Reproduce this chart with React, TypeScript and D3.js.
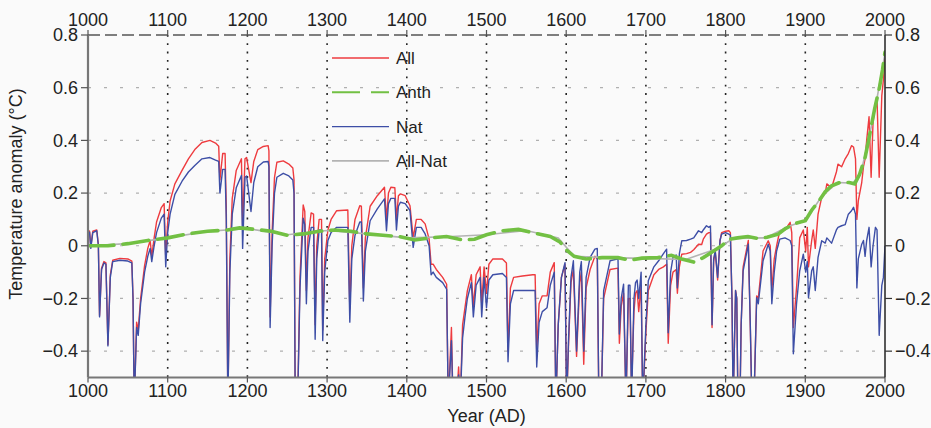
import React from "react";
import * as d3 from "d3";

// ---- Data ----
const years = [
  1000, 1002, 1003.5, 1006, 1011, 1013, 1014.5, 1017, 1020, 1022.5,
  1025, 1028, 1031, 1040, 1050, 1055, 1056.5, 1058, 1061, 1063,
  1066, 1071, 1075, 1078, 1080, 1083, 1086, 1092, 1095.5, 1097.5,
  1100, 1103, 1109, 1118, 1126, 1134, 1143, 1153, 1160, 1164,
  1165.5, 1169, 1172, 1173.5, 1175.5, 1178, 1181, 1186, 1192.5, 1194,
  1197, 1199,
  1204.5, 1208, 1213, 1220, 1226, 1227, 1228.5, 1231, 1234, 1237,
  1245, 1252, 1257, 1258.5, 1260, 1263, 1266, 1270, 1272, 1274,
  1276, 1280, 1283, 1285, 1287, 1290, 1293, 1294.5, 1297,
  1301, 1305, 1312, 1326, 1328.5, 1331, 1335, 1341, 1343, 1345.5,
  1348, 1354, 1363, 1372, 1374.5, 1377, 1380, 1385, 1387, 1389.5,
  1392, 1398,
  1404, 1408, 1412, 1418, 1423, 1428, 1430.5, 1433, 1437, 1445,
  1450, 1452, 1456, 1458, 1462, 1465, 1467, 1470, 1473, 1476,
  1481, 1483.5, 1487, 1492, 1494, 1497,
  1500, 1503, 1508, 1520, 1525, 1527, 1530, 1534, 1545, 1558,
  1561, 1563, 1566, 1570, 1576, 1580, 1585, 1587, 1590, 1594,
  1598.5,
  1600.5, 1603, 1606, 1609, 1613, 1617, 1619, 1622, 1625, 1630,
  1636, 1639, 1641, 1644, 1647, 1655, 1665, 1666.7, 1669, 1672,
  1675, 1678, 1680, 1682, 1685, 1687, 1689, 1691, 1694, 1696,
  1700, 1703, 1710, 1716, 1722, 1726, 1728, 1731, 1734, 1738,
  1739.5, 1742, 1745, 1751, 1756, 1760, 1766, 1770, 1772, 1776,
  1779, 1781, 1783, 1785, 1787, 1790, 1793, 1795,
  1800, 1804, 1806, 1808, 1809.5, 1812.5, 1814, 1815.5, 1818, 1819.5,
  1822, 1828.5, 1831, 1833, 1835.5, 1839, 1841, 1847, 1853.5, 1856,
  1858, 1861, 1864, 1868, 1874.5, 1881, 1883, 1885, 1889, 1893,
  1897.5,
  1900.5, 1902.5, 1904, 1908, 1910, 1912.5, 1916, 1920.6, 1925, 1927,
  1933, 1939, 1941, 1945.6, 1950, 1954, 1958, 1960.5, 1963, 1964.7,
  1966.5, 1970.8, 1973, 1975, 1977, 1980, 1982.6, 1985, 1988, 1990,
  1992.7, 1996, 1998, 2000,
];

const natValues = [
  0.055, 0.05, -0.01, 0.05, 0.057, 0.0, -0.27, -0.09, -0.065, -0.07,
  -0.38, -0.12, -0.06, -0.055, -0.058, -0.065, -0.2, -0.6, -0.31, -0.34,
  -0.22, -0.1, -0.04, -0.01, -0.06, 0.0, 0.05, 0.105, 0.12, -0.08,
  0.05, 0.12, 0.195, 0.245, 0.28, 0.305, 0.33, 0.335, 0.325, 0.32,
  0.2, 0.29, 0.29, 0.1, -0.6, -0.1, 0.12, 0.22, 0.267, -0.01,
  0.26, 0.265,
  0.13, 0.24, 0.3, 0.318, 0.32, 0.3, -0.31, 0.0, 0.2, 0.26,
  0.275, 0.265, 0.25, 0.2, -0.6, -0.6, -0.16, 0.105, 0.08, -0.22,
  -0.02, 0.07, 0.07, -0.355, -0.05, 0.06, 0.06, -0.36, -0.1,
  0.02, 0.05, 0.07, 0.07, -0.29, -0.05, 0.04, 0.09, 0.09, -0.21,
  -0.02, 0.095, 0.14, 0.178, 0.057, 0.16, 0.18, 0.18, 0.06, 0.15,
  0.165, 0.16,
  0.133, -0.006, 0.07, 0.07, 0.045, 0.0, -0.11, -0.1, -0.12, -0.14,
  -0.165, -0.6, -0.36, -0.6, -0.6, -0.49, -0.6, -0.35, -0.27, -0.2,
  -0.14, -0.27, -0.15, -0.12, -0.27, -0.12,
  -0.235, -0.13, -0.11, -0.105, -0.12, -0.44, -0.22, -0.17, -0.17, -0.17,
  -0.17, -0.46, -0.29, -0.25, -0.235, -0.15, -0.1, -0.6, -0.3, -0.12,
  -0.064,
  -0.6, -0.35, -0.12, -0.057, -0.4, -0.1, -0.06, -0.4, -0.12, -0.044,
  -0.013, -0.01, -0.6, -0.6, -0.17, -0.057, -0.05, -0.335, -0.2, -0.146,
  -0.6, -0.15, -0.15, -0.6, -0.2, -0.14, -0.13, -0.2, -0.1, -0.6,
  -0.3, -0.133, -0.08, -0.057, -0.03, -0.013, -0.33, -0.1, -0.044, -0.035,
  -0.16, -0.03, 0.019, 0.02, 0.025, 0.03, 0.057, 0.05, 0.06, 0.076,
  0.07, 0.075, -0.3, -0.05, -0.02, -0.12, 0.02, 0.044,
  0.05, 0.044, 0.04, -0.2, -0.6, -0.17, -0.2, -0.6, -0.6, -0.3,
  -0.095, 0.006, -0.3, -0.6, -0.6, -0.197, -0.22, -0.057, 0.006, -0.02,
  -0.22, -0.1, -0.02, 0.025, 0.03, 0.02, 0.0, -0.41, -0.22, -0.095,
  -0.032,
  -0.1, -0.06, -0.197, -0.095, -0.08, -0.17, -0.044, 0.019, 0.01, 0.03,
  0.01, 0.06, 0.07, 0.076, 0.08, 0.12, 0.133, 0.146, 0.12, -0.16,
  -0.05, 0.006, 0.02, -0.04, 0.02, 0.07, -0.08, 0.0, 0.07, 0.06,
  -0.34, -0.15, -0.12, 0.0,
];

const allValues = [
  0.06, 0.055, -0.005, 0.055, 0.06, 0.005, -0.265, -0.085, -0.06, -0.065,
  -0.375, -0.11, -0.055, -0.048, -0.05, -0.058, -0.2, -0.6, -0.29, -0.32,
  -0.2, -0.075, -0.01, 0.02, -0.04, 0.03, 0.09, 0.145, 0.16, -0.04,
  0.09, 0.17, 0.235, 0.286, 0.33, 0.365, 0.392, 0.4, 0.39, 0.378,
  0.25, 0.35, 0.35, 0.15, -0.6, -0.05, 0.18, 0.286, 0.33, 0.08,
  0.33, 0.335,
  0.24, 0.32, 0.365, 0.377, 0.38, 0.36, -0.27, 0.05, 0.26, 0.317,
  0.322, 0.31, 0.295, 0.25, -0.6, -0.6, -0.12, 0.155, 0.13, -0.17,
  0.03, 0.125, 0.12, -0.3, 0.0, 0.1, 0.1, -0.32, -0.05,
  0.06, 0.1, 0.133, 0.136, -0.24, 0.0, 0.1, 0.152, 0.15, -0.16,
  0.03, 0.15, 0.19, 0.222, 0.1, 0.2, 0.222, 0.22, 0.1, 0.19,
  0.197, 0.19,
  0.152, 0.03, 0.1, 0.1, 0.083, 0.025, -0.07, -0.07, -0.09, -0.12,
  -0.146, -0.6, -0.31, -0.6, -0.6, -0.46, -0.6, -0.3, -0.235, -0.17,
  -0.11, -0.23, -0.11, -0.08, -0.22, -0.08,
  -0.18, -0.07, -0.05, -0.05, -0.065, -0.4, -0.16, -0.12, -0.115, -0.11,
  -0.11, -0.4, -0.22, -0.19, -0.19, -0.1, -0.064, -0.6, -0.3, -0.12,
  -0.07,
  -0.6, -0.37, -0.14, -0.09, -0.42, -0.14, -0.1, -0.45, -0.16, -0.09,
  -0.04, -0.05, -0.6, -0.6, -0.2, -0.09, -0.085, -0.37, -0.23, -0.18,
  -0.6, -0.2, -0.2, -0.55, -0.25, -0.18, -0.17, -0.25, -0.15, -0.6,
  -0.33, -0.17, -0.11, -0.09, -0.08, -0.07, -0.37, -0.15, -0.1, -0.09,
  -0.18, -0.08, -0.032, -0.03, -0.025, -0.015, 0.006, 0.005, 0.025, 0.044,
  0.05, 0.05, -0.31, -0.06, -0.02, -0.13, 0.02, 0.05,
  0.055, 0.057, 0.05, -0.2, -0.6, -0.17, -0.2, -0.6, -0.6, -0.3,
  -0.08, 0.02, -0.31, -0.6, -0.6, -0.19, -0.2, -0.02, 0.019, 0.0,
  -0.17, -0.05, 0.0, 0.057, 0.06, 0.089, 0.05, -0.31, -0.16, 0.03,
  0.06,
  -0.02, 0.07, -0.08, 0.02, 0.06, -0.01, 0.12, 0.184, 0.2, 0.235,
  0.22, 0.28, 0.31, 0.3, 0.33, 0.35, 0.38, 0.375, 0.33, 0.1,
  0.17, 0.24, 0.3, 0.33, 0.4, 0.49, 0.26, 0.47, 0.54, 0.56,
  0.26, 0.57, 0.63, 0.72,
];

const anthYears = [
  1000, 1025, 1050, 1075, 1100, 1125, 1150, 1175, 1190, 1210,
  1230, 1250, 1270, 1290, 1310, 1330, 1350, 1370, 1390, 1410,
  1430, 1450, 1470, 1485, 1500, 1520, 1540, 1560, 1580, 1592,
  1600, 1610, 1625, 1645, 1665, 1680, 1695, 1715, 1732, 1745,
  1760, 1772, 1785, 1795, 1805, 1815, 1828, 1840, 1852, 1866,
  1875, 1888, 1900, 1908, 1916, 1925, 1933, 1945, 1955, 1962,
  1968, 1975, 1981, 1987, 1993, 1997, 2000,
];
const anthValues = [
  0.0, 0.0, 0.008, 0.02, 0.03, 0.045, 0.055, 0.06, 0.068, 0.062,
  0.055, 0.04, 0.045, 0.055, 0.06, 0.055, 0.045, 0.04, 0.035, 0.022,
  0.03, 0.035, 0.022, 0.025, 0.042, 0.057, 0.062, 0.048, 0.035, 0.015,
  -0.015, -0.04, -0.05, -0.045, -0.045, -0.055, -0.047, -0.045, -0.036, -0.05,
  -0.062, -0.045, -0.02, 0.0, 0.025, 0.03, 0.035, 0.028, 0.032, 0.044,
  0.065, 0.085, 0.095, 0.135, 0.165, 0.205, 0.228, 0.242, 0.24, 0.235,
  0.27, 0.335, 0.425, 0.52, 0.6, 0.67, 0.735,
];

const allNatYears = [
  1000, 1050, 1100, 1150, 1200, 1250, 1300, 1350, 1400, 1450,
  1500, 1550, 1590, 1610, 1650, 1700, 1750, 1790, 1810, 1850,
  1880, 1900, 1920, 1940, 1960, 1970, 1980, 1990, 2000,
];
const allNatValues = [
  0.0, 0.008, 0.03, 0.055, 0.065, 0.042, 0.058, 0.045, 0.03, 0.034,
  0.042, 0.058, 0.03, -0.04, -0.045, -0.048, -0.052, -0.01, 0.028, 0.03,
  0.075, 0.095, 0.185, 0.24, 0.238, 0.28, 0.41, 0.56, 0.73,
];

const xTicks = [1000, 1100, 1200, 1300, 1400, 1500, 1600, 1700, 1800, 1900, 2000];
const yTicks = [0.8, 0.6, 0.4, 0.2, 0, -0.2, -0.4];
const gridY = [0.6, 0.4, 0.2, 0, -0.2, -0.4];

const legendItems = [
  { label: "All", color: "#ee3b3f", dash: "", width: 1.4 },
  { label: "Anth", color: "#72c043", dash: "28 11", width: 2 },
  { label: "Nat", color: "#3d4ea6", dash: "", width: 1.4 },
  { label: "All-Nat", color: "#b3b3b3", dash: "", width: 1.6 },
];

const W = 931;
const H = 428;
const left = 88;
const right = 885;
const top = 35;
const bottom = 377.5;

const fmt = (v: number) => (v === 0 ? "0" : v < 0 ? "\u2212" + Math.abs(v).toFixed(1) : v.toFixed(1));

export default function App() {
  const x = d3.scaleLinear().domain([1000, 2000]).range([left, right]);
  const y = d3.scaleLinear().domain([-0.5, 0.8]).range([bottom, top]);

  const line = d3
    .line<[number, number]>()
    .x((d) => x(d[0]))
    .y((d) => y(d[1]));

  const natPts = years.map((yr, i) => [yr, natValues[i]] as [number, number]);
  const allPts = years.map((yr, i) => [yr, allValues[i]] as [number, number]);
  const anthPts = anthYears.map((yr, i) => [yr, anthValues[i]] as [number, number]);
  const allNatPts = allNatYears.map((yr, i) => [yr, allNatValues[i]] as [number, number]);

  const font = "'Liberation Sans', Arial, Helvetica, sans-serif";

  return (
    <svg
      width={W}
      height={H}
      style={{ position: "absolute", left: 0, top: 0, background: "#fafafa" }}
      fontFamily={font}
    >
      <defs>
        <clipPath id="plotClip">
          <rect x={left} y={top} width={right - left} height={bottom - top} />
        </clipPath>
      </defs>

      {/* horizontal grid */}
      {gridY.map((v) => (
        <line
          key={"gy" + v}
          x1={left}
          x2={right}
          y1={y(v)}
          y2={y(v)}
          stroke="#b0b0b0"
          strokeWidth={1.2}
          strokeDasharray="3 13"
        />
      ))}
      {/* vertical dotted century lines */}
      {xTicks.slice(1, -1).map((t) => (
        <line
          key={"gx" + t}
          x1={x(t)}
          x2={x(t)}
          y1={top}
          y2={bottom}
          stroke="#222"
          strokeWidth={1.6}
          strokeDasharray="1.8 6.5"
        />
      ))}

      {/* series */}
      <g clipPath="url(#plotClip)">
        <path d={line(allPts) || ""} fill="none" stroke="#ee3b3f" strokeWidth={1.4} strokeLinejoin="round" />
        <path d={line(natPts) || ""} fill="none" stroke="#3d4ea6" strokeWidth={1.4} strokeLinejoin="round" />
        <path d={line(allNatPts) || ""} fill="none" stroke="#b3b3b3" strokeWidth={1.6} />
        <path
          d={line(anthPts) || ""}
          fill="none"
          stroke="#72c043"
          strokeWidth={3.6}
          strokeDasharray="26 9"
          strokeLinecap="round"
        />
      </g>

      {/* top dashed axis */}
      <line x1={left} x2={right} y1={top} y2={top} stroke="#555" strokeWidth={1.5} strokeDasharray="12 5" />
      {xTicks.map((t) => (
        <g key={"tt" + t}>
          <line x1={x(t)} x2={x(t)} y1={top} y2={top - 5} stroke="#555" strokeWidth={1.2} />
          <text x={x(t)} y={top - 9} textAnchor="middle" fontSize={18} fill="#222">
            {t}
          </text>
        </g>
      ))}

      {/* bottom axis */}
      <line x1={left} x2={right} y1={bottom} y2={bottom} stroke="#777" strokeWidth={2.2} />
      {xTicks.map((t) => (
        <g key={"bt" + t}>
          <line x1={x(t)} x2={x(t)} y1={bottom} y2={bottom + 5} stroke="#555" strokeWidth={1.2} />
          <text x={x(t)} y={bottom + 19} textAnchor="middle" fontSize={18} fill="#222">
            {t}
          </text>
        </g>
      ))}
      <text x={(left + right) / 2} y={422} textAnchor="middle" fontSize={18} fill="#222">
        Year (AD)
      </text>

      {/* left axis */}
      <line x1={left} x2={left} y1={top} y2={bottom} stroke="#777" strokeWidth={2.2} />
      {yTicks.map((v) => (
        <g key={"ly" + v}>
          <line x1={left - 7} x2={left} y1={y(v)} y2={y(v)} stroke="#555" strokeWidth={1.2} />
          <text x={left - 10} y={y(v)} dy="0.35em" textAnchor="end" fontSize={18} fill="#222">
            {fmt(v)}
          </text>
        </g>
      ))}
      <text
        transform={`translate(22,194) rotate(-90)`}
        textAnchor="middle"
        fontSize={18}
        fill="#222"
      >
        Temperature anomaly (°C)
      </text>

      {/* right axis */}
      <line x1={right} x2={right} y1={top} y2={bottom} stroke="#222" strokeWidth={1.5} />
      {yTicks.map((v) => (
        <g key={"ry" + v}>
          <line x1={right} x2={right + 7} y1={y(v)} y2={y(v)} stroke="#333" strokeWidth={1.2} />
          <text x={right + 10} y={y(v)} dy="0.35em" textAnchor="start" fontSize={18} fill="#222">
            {fmt(v)}
          </text>
        </g>
      ))}

      {/* legend */}
      {legendItems.map((it, i) => {
        const ly = 58 + i * 34.3;
        return (
          <g key={"lg" + it.label}>
            <line
              x1={332}
              x2={389}
              y1={ly}
              y2={ly}
              stroke={it.color}
              strokeWidth={it.width}
              strokeDasharray={it.dash || undefined}
            />
            <text x={396} y={ly} dy="0.35em" fontSize={17} fill="#222">
              {it.label}
            </text>
          </g>
        );
      })}
    </svg>
  );
}
